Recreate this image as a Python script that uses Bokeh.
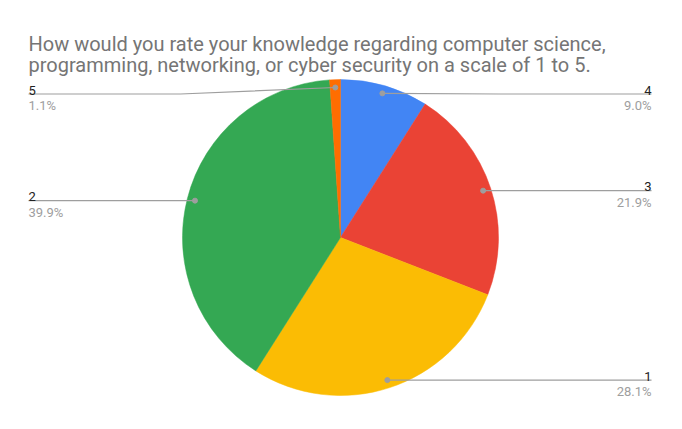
import math
from bokeh.plotting import figure
from bokeh.models import Range1d
from bokeh.core.properties import value
from bokeh.embed import file_html
from bokeh.resources import INLINE

# ---- data ----
categories = ["4", "3", "1", "2", "5"]
percents = [9.0, 21.9, 28.1, 39.9, 1.1]
colors = ["#4285f4", "#ea4335", "#fbbc04", "#34a853", "#ff6d01"]
title_lines = ["How would you rate your knowledge regarding computer science,",
               "programming, networking, or cyber security on a scale of 1 to 5."]

W, H = 682, 429
def Y(ys):  # page y (down) -> data y (up)
    return H - ys

p = figure(width=666, height=413, output_backend="svg", toolbar_location=None,
           x_range=Range1d(0, 666), y_range=Range1d(H - 413, H), min_border=0)
p.axis.visible = False
p.grid.visible = False
p.outline_line_color = None
p.background_fill_color = "white"
p.border_fill_color = "white"

cx, cy, r = 340, Y(237), 158
total = sum(percents)
cum = 0.0
for cat, pct, col in zip(categories, percents, colors):
    f0 = cum / total
    f1 = (cum + pct) / total
    cum += pct
    p.wedge(x=cx, y=cy, radius=r, start_angle=math.pi / 2 - f0 * 2 * math.pi,
            end_angle=math.pi / 2 - f1 * 2 * math.pi, direction="clock",
            fill_color=col, line_color=col, line_width=0.5)
    fm = (f0 + f1) / 2
    th = fm * 2 * math.pi
    dx = cx + 0.95 * r * math.sin(th)
    dy = cy + 0.95 * r * math.cos(th)
    ly = min(dy, Y(93.5))
    right = dx > cx
    xend = 651 if right else 28
    elbow = cx + r + 2 if right else cx - r - 2
    if abs(ly - dy) > 0.5:
        xs = [dx, elbow, xend]
        ys = [dy, ly, ly]
    else:
        xs = [dx, xend]
        ys = [dy, dy]
    p.line(xs, ys, line_color="#9e9e9e", line_width=1.2)
    p.scatter([dx], [dy], size=5, fill_color="#9e9e9e", line_color="#9e9e9e")
    align = "right" if right else "left"
    p.text([xend], [ly + 4], text=[cat], text_align=align, text_baseline="alphabetic",
           text_font=value("Roboto"), text_font_size="13px", text_color="#222222")
    p.text([xend], [ly - 11.5], text=[f"{pct:.1f}%"], text_align=align,
           text_baseline="alphabetic", text_font=value("Roboto"),
           text_font_size="13px", text_color="#9e9e9e")

for i, t in enumerate(title_lines):
    p.text([28], [Y(43 + 21 * i)], text=[t], text_align="left", text_baseline="alphabetic",
           text_font=value("Roboto"), text_font_size="20px", text_color="#757575")

open("out.html", "w").write(file_html(p, INLINE))
